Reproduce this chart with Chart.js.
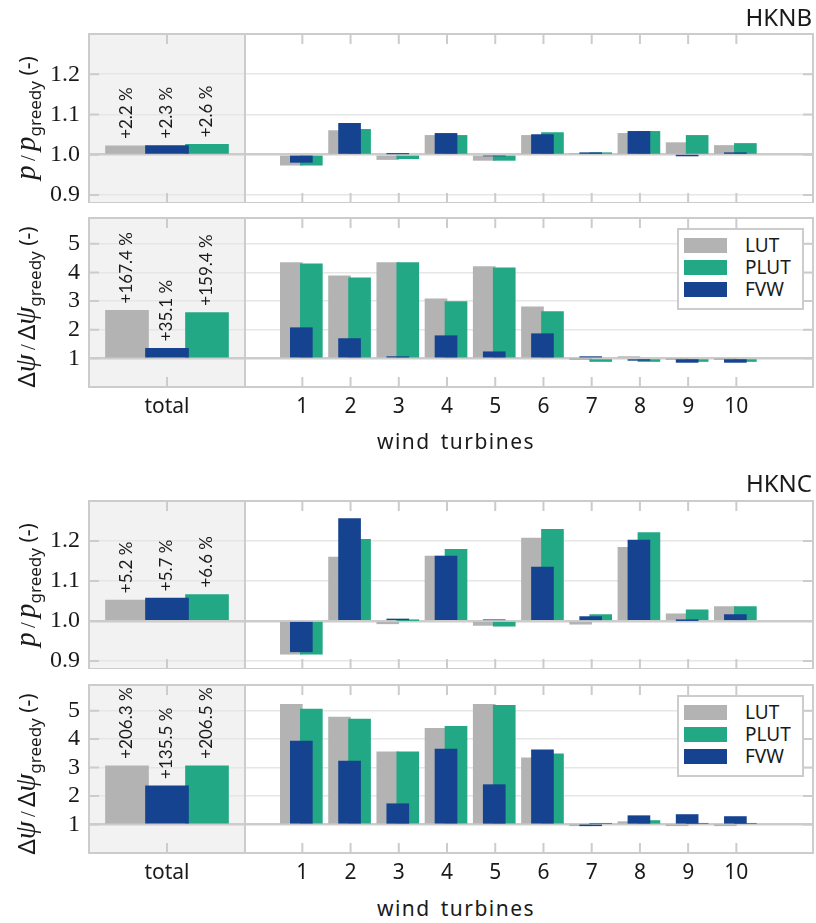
<!DOCTYPE html>
<html>
<head>
<meta charset="utf-8">
<script src="https://cdn.jsdelivr.net/npm/chart.js@4.4.1/dist/chart.umd.min.js"></script>
<style>
html,body{margin:0;padding:0;background:#fff;}
#wrap{position:relative;width:816px;height:923px;overflow:hidden;background:#fff;}
canvas{position:absolute;}
.txt{position:absolute;white-space:nowrap;color:#1a1a1a;line-height:1;}
.title{font-family:'Noto Sans';font-size:24px;right:4px;}
.xlab{font-family:'Noto Sans';font-size:21px;letter-spacing:1.5px;word-spacing:3px;transform:translate(-50%,-50%);}
.ylab{transform:translate(-50%,-50%) rotate(-90deg);font-family:'Noto Sans';font-size:21px;}
.ylab .it{font-family:'Liberation Serif';font-style:italic;font-size:29px;}
.ylab .up{font-family:'Noto Sans';font-size:24px;}
.ylab .sl{font-family:'Liberation Serif';font-size:21px;}
.ylab sub{font-size:17px;vertical-align:-6px;line-height:1;}
.legend{position:absolute;background:#fff;border:2px solid #cccccc;box-sizing:border-box;width:127px;height:82px;}
.legend .sw{position:absolute;left:5px;width:43px;height:15px;}
.legend .lt{position:absolute;left:66px;font:19px 'Noto Sans';color:#1a1a1a;line-height:1;}
</style>
</head>
<body>
<div id="wrap"></div>
<script>
// ---------- data ----------
const turbines = [1, 2, 3, 4, 5, 6, 7, 8, 9, 10];
const totalLabel = ['total'];
const seriesNames = ['LUT', 'PLUT', 'FVW'];
const powerTicks = [0.9, 1.0, 1.1, 1.2];
const wakeTicks = [1, 2, 3, 4, 5];

// totals: LUT, PLUT, FVW
const hknbPowerTotal = [1.022, 1.026, 1.023];
const hknbWakeTotal  = [2.674, 2.594, 1.351];
const hkncPowerTotal = [1.052, 1.066, 1.057];
const hkncWakeTotal  = [3.063, 3.065, 2.355];

const hknbPowerLUT  = [0.974, 1.060, 0.988, 1.048, 0.986, 1.048, 1.003, 1.053, 1.030, 1.023];
const hknbPowerPLUT = [0.974, 1.063, 0.990, 1.048, 0.986, 1.055, 1.005, 1.058, 1.048, 1.028];
const hknbPowerFVW  = [0.981, 1.078, 1.002, 1.053, 0.997, 1.050, 1.005, 1.058, 0.999, 1.005];

const hknbWakeLUT  = [4.34, 3.88, 4.34, 3.08, 4.20, 2.80, 0.99, 1.06, 0.99, 0.99];
const hknbWakePLUT = [4.30, 3.81, 4.34, 2.98, 4.16, 2.63, 0.89, 0.89, 0.89, 0.89];
const hknbWakeFVW  = [2.07, 1.69, 1.06, 1.79, 1.23, 1.86, 1.06, 0.93, 0.86, 0.86];

const hkncPowerLUT  = [0.917, 1.160, 0.993, 1.162, 0.989, 1.207, 0.992, 1.184, 1.018, 1.036];
const hkncPowerPLUT = [0.917, 1.204, 1.001, 1.179, 0.987, 1.229, 1.016, 1.221, 1.028, 1.036];
const hkncPowerFVW  = [0.923, 1.256, 1.005, 1.162, 1.003, 1.135, 1.011, 1.202, 1.001, 1.016];

const hkncWakeLUT  = [5.22, 4.77, 3.55, 4.38, 5.22, 3.34, 0.99, 1.10, 0.99, 0.99];
const hkncWakePLUT = [5.05, 4.70, 3.55, 4.45, 5.19, 3.48, 1.03, 1.14, 1.03, 1.03];
const hkncWakeFVW  = [3.93, 3.23, 1.73, 3.65, 2.40, 3.62, 0.985, 1.31, 1.35, 1.28];

// ---------- style ----------
const seriesColors = ['#b3b3b3', '#22a884', '#15438f'];
const drawOrder = [2, 1, 0];            // FVW drawn on top
const turbOffsets = [-11, 9, -1];        // px shift of LUT, PLUT, FVW
const totalOffsets = [-40, 40, 0];
const PADT = 12;

const rows = [
  {top: 34,  h: 169, kind: 'power', labels: false, total: hknbPowerTotal, series: [hknbPowerLUT, hknbPowerPLUT, hknbPowerFVW]},
  {top: 218, h: 169, kind: 'wake',  labels: true,  total: hknbWakeTotal,  series: [hknbWakeLUT, hknbWakePLUT, hknbWakeFVW]},
  {top: 501, h: 168, kind: 'power', labels: false, total: hkncPowerTotal, series: [hkncPowerLUT, hkncPowerPLUT, hkncPowerFVW]},
  {top: 685, h: 168, kind: 'wake',  labels: true,  total: hkncWakeTotal,  series: [hkncWakeLUT, hkncWakePLUT, hkncWakeFVW]}
];

const framePlugin = {
  id: 'frame',
  beforeDraw(chart, args, o) {
    const {ctx, chartArea: a} = chart;
    if (o.bg) {
      ctx.save();
      ctx.fillStyle = o.bg;
      ctx.fillRect(a.left, a.top, a.right - a.left, a.bottom - a.top);
      ctx.restore();
    }
  },
  beforeDatasetsDraw(chart, args, o) {
    const xs = chart.scales.x;
    chart.data.datasets.forEach((ds, i) => {
      const meta = chart.getDatasetMeta(i);
      meta.data.forEach((el, j) => {
        el.x = xs.getPixelForValue(ds.data[j].x) + o.offsets[i];
      });
    });
  },
  afterDatasetsDraw(chart, args, o) {
    if (!o.annotate) return;
    const {ctx} = chart;
    ctx.save();
    ctx.fillStyle = '#1a1a1a';
    ctx.font = '17px Lato';
    ctx.textAlign = 'left';
    ctx.textBaseline = 'middle';
    chart.data.datasets.forEach((ds, i) => {
      const el = chart.getDatasetMeta(i).data[0];
      const v = ds.data[0].y;
      const pct = (Math.round((v - 1) * 1000) / 10).toFixed(1);
      const txt = (v >= 1 ? '+' : '') + pct + ' %';
      ctx.save();
      ctx.translate(el.x, Math.min(el.y, el.base) - 7);
      ctx.rotate(-Math.PI / 2);
      ctx.fillText(txt, 0, 0);
      ctx.restore();
    });
    ctx.restore();
  },
  afterDraw(chart, args, o) {
    const {ctx, chartArea: a, scales} = chart;
    const TL = 10;
    ctx.save();
    ctx.strokeStyle = '#cccccc';
    ctx.lineWidth = 2;
    ctx.beginPath();
    scales.x.ticks.forEach(t => {
      const px = scales.x.getPixelForValue(t.value);
      ctx.moveTo(px, a.top); ctx.lineTo(px, a.top + TL);
      ctx.moveTo(px, a.bottom); ctx.lineTo(px, a.bottom - TL);
    });
    scales.y.ticks.forEach(t => {
      const py = scales.y.getPixelForValue(t.value);
      if (o.side === 'left') { ctx.moveTo(a.left, py); ctx.lineTo(a.left + TL, py); }
      else { ctx.moveTo(a.right, py); ctx.lineTo(a.right - TL, py); }
    });
    ctx.stroke();
    ctx.strokeRect(a.left, a.top, a.right - a.left, a.bottom - a.top);
    ctx.restore();
  }
};

function zeroPad(s) {
  s.paddingTop = 0; s.paddingBottom = 0; s.paddingLeft = 0; s.paddingRight = 0;
}

function yScale(row, isTotal) {
  const ticks = row.kind === 'power' ? powerTicks : wakeTicks;
  return {
    type: 'linear',
    min: row.kind === 'power' ? 0.88 : 0,
    max: row.kind === 'power' ? 1.3 : 5.9,
    position: 'left',
    afterBuildTicks: s => { s.ticks = ticks.map(v => ({value: v})); },
    afterFit: s => { s.width = isTotal ? 89 : 0; zeroPad(s); },
    grid: {
      drawTicks: false,
      color: c => (c.tick && c.tick.value === 1) ? '#cccccc' : '#e6e6e6',
      lineWidth: c => (c.tick && c.tick.value === 1) ? 2.5 : 1.5
    },
    border: {display: false},
    ticks: {
      display: isTotal, padding: 9, color: '#1a1a1a',
      font: {family: 'Liberation Serif', size: 24},
      callback: v => row.kind === 'power' ? Number(v).toFixed(1) : String(v)
    }
  };
}

function xScale(row, isTotal) {
  return {
    type: 'linear',
    min: isTotal ? -1 : 0.4,
    max: isTotal ? 1 : 11,
    afterBuildTicks: s => { s.ticks = isTotal ? [{value: 0}] : turbines.map(v => ({value: v})); },
    afterFit: s => { s.height = row.labels ? 40 : 0; zeroPad(s); },
    grid: {display: false, drawTicks: false},
    border: {display: false},
    ticks: {
      display: row.labels, padding: 7, color: '#1a1a1a', maxRotation: 0, autoSkip: false,
      font: {family: 'Noto Sans', size: 21},
      callback: v => isTotal ? totalLabel[0] : String(v)
    }
  };
}

const wrap = document.getElementById('wrap');

function makeCanvas(left, top, w, h) {
  const c = document.createElement('canvas');
  c.width = w; c.height = h;
  c.style.left = left + 'px'; c.style.top = top + 'px';
  c.style.width = w + 'px'; c.style.height = h + 'px';
  wrap.appendChild(c);
  return c;
}

rows.forEach(row => {
  const ch = PADT + row.h + (row.labels ? 40 : 0);
  [true, false].forEach(isTotal => {
    const canvas = isTotal ? makeCanvas(0, row.top - PADT, 247, ch) : makeCanvas(243, row.top - PADT, 572, ch);
    const datasets = seriesNames.map((name, s) => ({
      label: name,
      data: isTotal ? [{x: 0, y: row.total[s]}] : turbines.map((t, j) => ({x: t, y: row.series[s][j]})),
      backgroundColor: seriesColors[s],
      borderWidth: 0,
      base: 1,
      grouped: false,
      barThickness: isTotal ? 43 : 22,
      order: drawOrder[s]
    }));
    new Chart(canvas, {
      type: 'bar',
      data: {datasets},
      options: {
        responsive: false,
        animation: false,
        devicePixelRatio: 1,
        layout: {padding: {top: PADT, right: 2, left: isTotal ? 0 : 2, bottom: 0}},
        scales: {x: xScale(row, isTotal), y: yScale(row, isTotal)},
        plugins: {
          legend: {display: false},
          tooltip: {enabled: false},
          frame: {
            bg: isTotal ? '#f2f2f2' : null,
            side: isTotal ? 'left' : 'right',
            offsets: isTotal ? totalOffsets : turbOffsets,
            annotate: isTotal
          }
        }
      },
      plugins: [framePlugin]
    });
  });
});

// ---------- text ----------
function addText(html, cls, styles) {
  const d = document.createElement('div');
  d.className = 'txt ' + cls;
  d.innerHTML = html;
  Object.assign(d.style, styles);
  wrap.appendChild(d);
  return d;
}
addText('HKNB', 'title', {top: '5px'});
addText('HKNC', 'title', {top: '471px'});

const powerLabel = '<span class="it">p</span><span class="sl">&#8201;/&#8201;</span><span class="it">p</span><sub>greedy</sub> (-)';
const wakeLabel = '<span class="up">&Delta;</span><span class="it">&psi;</span><span class="sl">&#8201;/&#8201;</span><span class="up">&Delta;</span><span class="it">&psi;</span><sub>greedy</sub> (-)';
addText(powerLabel, 'ylab', {left: '27px', top: '118px'});
addText(wakeLabel, 'ylab', {left: '27px', top: '307px'});
addText(powerLabel, 'ylab', {left: '27px', top: '585px'});
addText(wakeLabel, 'ylab', {left: '27px', top: '774px'});

addText('wind turbines', 'xlab', {left: '456px', top: '441px'});
addText('wind turbines', 'xlab', {left: '456px', top: '908px'});

const legendOrder = [0, 1, 2];
[228, 695].forEach(top => {
  const box = document.createElement('div');
  box.className = 'legend';
  box.style.left = '677px';
  box.style.top = top + 'px';
  const rowsY = [15, 37, 59];
  legendOrder.forEach((s, k) => {
    const sw = document.createElement('div');
    sw.className = 'sw';
    sw.style.top = (rowsY[k] - 7.5) + 'px';
    sw.style.background = seriesColors[s];
    box.appendChild(sw);
    const lt = document.createElement('div');
    lt.className = 'lt';
    lt.style.top = (rowsY[k] - 9.5) + 'px';
    lt.textContent = seriesNames[s];
    box.appendChild(lt);
  });
  wrap.appendChild(box);
});
</script>
</body>
</html>
